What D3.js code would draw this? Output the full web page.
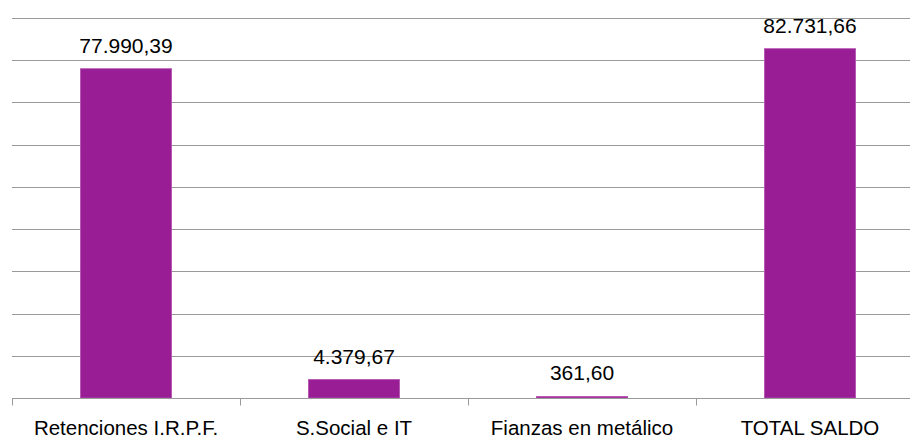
<!DOCTYPE html>
<html>
<head>
<meta charset="utf-8">
<script src="https://cdn.jsdelivr.net/npm/d3@7"></script>
<style>
  body { margin: 0; background: #fff; }
  text { font-family: "Liberation Sans", Arial, sans-serif; fill: #000; }
</style>
</head>
<body>
<div id="chart"></div>
<script>
// data
var categories = ["Retenciones I.R.P.F.", "S.Social e IT", "Fianzas en metálico", "TOTAL SALDO"];
var values = [77990.39, 4379.67, 361.60, 82731.66];
var valueLabels = ["77.990,39", "4.379,67", "361,60", "82.731,66"];
var gridTicks = [0, 10000, 20000, 30000, 40000, 50000, 60000, 70000, 80000, 90000];

var data = categories.map(function(c, i) {
  return { cat: c, val: values[i], label: valueLabels[i] };
});

var W = 910, H = 437;
// plot area runs past the right edge of the picture (it was cropped)
var pLeft = 12, pRight = 924, pTop = 18, pBottom = 398;

var svg = d3.select("#chart").append("svg")
  .attr("width", W)
  .attr("height", H);

var x = d3.scaleBand()
  .domain(categories)
  .range([pLeft, pRight])
  .paddingInner(0.6)
  .paddingOuter(0.3);

var y = d3.scaleLinear()
  .domain([0, 90000])
  .range([pBottom, pTop]);

// gridlines
svg.append("g")
  .selectAll("line")
  .data(gridTicks.slice(1))
  .enter()
  .append("line")
  .attr("x1", pLeft)
  .attr("x2", pRight)
  .attr("y1", function(d) { return Math.round(y(d)) + 0.5; })
  .attr("y2", function(d) { return Math.round(y(d)) + 0.5; })
  .attr("stroke", "#9a9a9a")
  .attr("stroke-width", 1);

// bars
svg.append("g")
  .selectAll("rect")
  .data(data)
  .enter()
  .append("rect")
  .attr("x", function(d) { return x(d.cat); })
  .attr("width", x.bandwidth())
  .attr("y", function(d) { return y(d.val); })
  .attr("height", function(d) { return pBottom - y(d.val); })
  .attr("fill", "#991e95")
  .attr("stroke", "#b553b1")
  .attr("stroke-width", 0.8);

// x axis
var xAxis = d3.axisBottom(x).tickSize(0);
var ax = svg.append("g")
  .attr("transform", "translate(0," + (pBottom + 0.5) + ")")
  .call(xAxis);
ax.select(".domain").remove();
ax.append("line")
  .attr("x1", pLeft).attr("x2", pRight)
  .attr("stroke", "#9a9a9a");
ax.selectAll(".sep")
  .data(d3.range(categories.length + 1))
  .enter()
  .append("line")
  .attr("class", "sep")
  .attr("x1", function(i) { return Math.round(pLeft + i * (pRight - pLeft) / categories.length) + 0.5; })
  .attr("x2", function(i) { return Math.round(pLeft + i * (pRight - pLeft) / categories.length) + 0.5; })
  .attr("y1", 0).attr("y2", 7)
  .attr("stroke", "#9a9a9a");
ax.selectAll(".tick text")
  .attr("y", 36)
  .attr("dy", "0")
  .attr("font-size", 20.5)
  .attr("font-family", "Liberation Sans, Arial, sans-serif")
  .attr("fill", "#000");

// value labels
svg.append("g")
  .selectAll("text")
  .data(data)
  .enter()
  .append("text")
  .attr("x", function(d) { return x(d.cat) + x.bandwidth() / 2; })
  .attr("y", function(d) { return y(d.val) - 16; })
  .attr("text-anchor", "middle")
  .attr("font-size", 21)
  .text(function(d) { return d.label; });
</script>
</body>
</html>
